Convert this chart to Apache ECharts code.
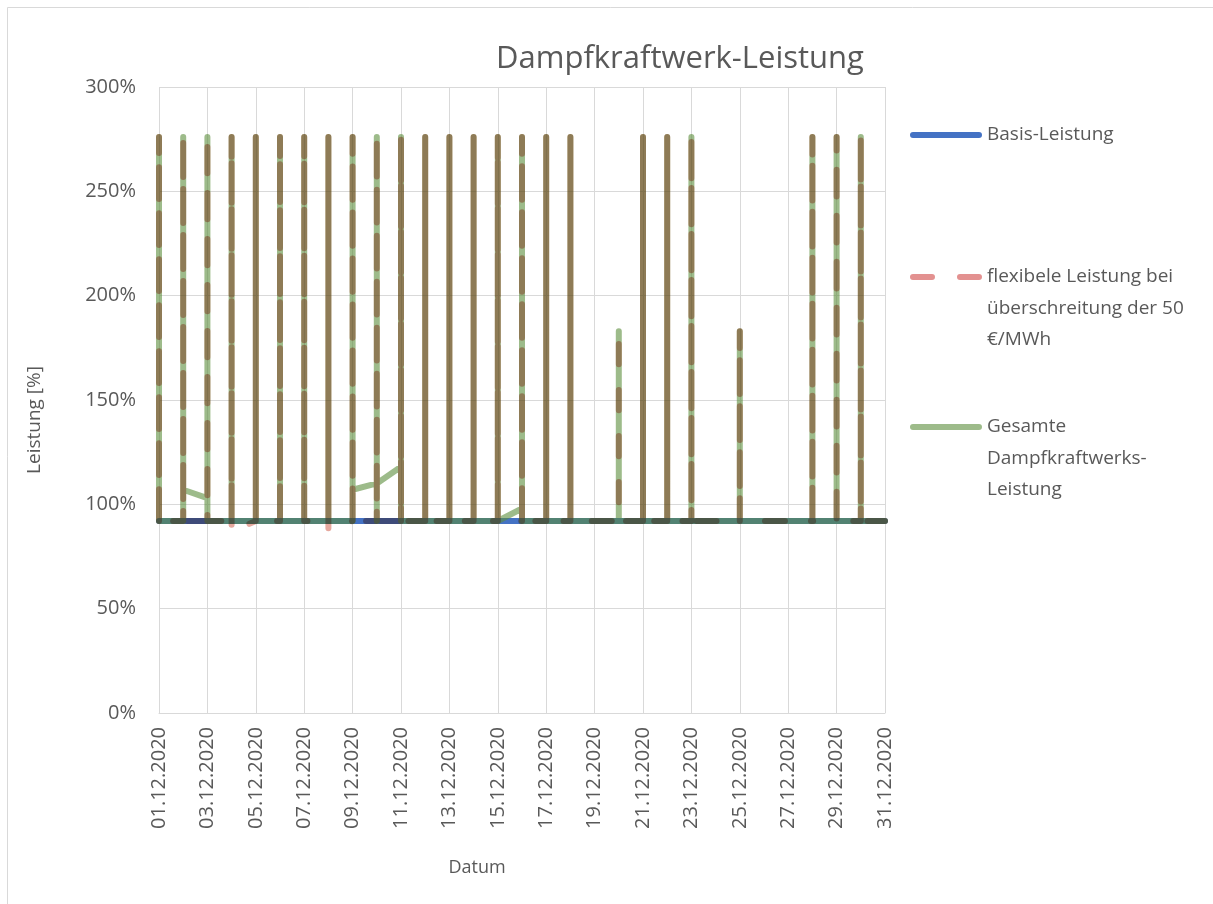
<!DOCTYPE html>
<html>
<head>
<meta charset="utf-8">
<title>Dampfkraftwerk-Leistung</title>
<script src="https://cdn.jsdelivr.net/npm/echarts@6/dist/echarts.min.js"></script>
<style>
  html, body { margin: 0; padding: 0; background: #fff; }
  #dashboard { width: 1213px; height: 904px; }
</style>
</head>
<body>
<div id="dashboard"></div>
<script>
// x-Achse: Tage im Dezember 2020
var dayLabels = [
  '01.12.2020', '02.12.2020', '03.12.2020', '04.12.2020', '05.12.2020', '06.12.2020',
  '07.12.2020', '08.12.2020', '09.12.2020', '10.12.2020', '11.12.2020', '12.12.2020',
  '13.12.2020', '14.12.2020', '15.12.2020', '16.12.2020', '17.12.2020', '18.12.2020',
  '19.12.2020', '20.12.2020', '21.12.2020', '22.12.2020', '23.12.2020', '24.12.2020',
  '25.12.2020', '26.12.2020', '27.12.2020', '28.12.2020', '29.12.2020', '30.12.2020',
  '31.12.2020'
];

var seriesNames = [
  'Basis-Leistung',
  'flexibele Leistung bei überschreitung der 50 €/MWh',
  'Gesamte Dampfkraftwerks-Leistung'
];

// Basis-Leistung in %, ein Wert pro Tag
var basisLeistung = [
  92, 92, 92, 92, 92, 92, 92, 92, 92, 92, 92, 92, 92, 92, 92, 92,
  92, 92, 92, 92, 92, 92, 92, 92, 92, 92, 92, 92, 92, 92, 92
];

// flexible Leistung in %, Verlauf innerhalb eines Tages (alle Werte am selben Datum)
var flexLeistung = [
  [92, 276, 92],                // 01.12
  [92, 276, 92],                // 02.12
  [92, 276, 92],                // 03.12
  [92, 276, 87],                // 04.12
  [92, 276, 92, 276, 92],       // 05.12
  [92, 276, 92, 276, 92],       // 06.12
  [92, 276, 92, 276, 92],       // 07.12
  [92, 276, 92, 276, 88],       // 08.12
  [92, 276, 92],                // 09.12
  [92, 276, 92],                // 10.12
  [92, 276, 92, 276, 92],       // 11.12
  [92, 276, 92, 276, 92],       // 12.12
  [92, 276, 92, 276, 92],       // 13.12
  [92, 276, 92, 276, 92],       // 14.12
  [92, 276, 92, 276, 92],       // 15.12
  [92, 276, 92],                // 16.12
  [92, 276, 92, 276, 92],       // 17.12
  [92, 276, 92, 276, 92],       // 18.12
  [92],                         // 19.12
  [92, 183, 92],                // 20.12
  [92, 276, 92, 276, 92],       // 21.12
  [92, 276, 92, 276, 92],       // 22.12
  [92, 276, 92],                // 23.12
  [92],                         // 24.12
  [92, 183, 92, 183, 92],       // 25.12
  [92],                         // 26.12
  [92],                         // 27.12
  [92, 276, 92, 276, 92],       // 28.12
  [92, 276, 92],                // 29.12
  [92, 276, 92],                // 30.12
  [92]                          // 31.12
];

// gesamte Leistung in %
var gesamtLeistung = [
  [92, 276, 92],                // 01.12
  [92, 276, 107],               // 02.12
  [103, 276, 92],               // 03.12
  [92, 276, 92],                // 04.12
  [92, 276, 92, 276, 92],       // 05.12
  [92, 276, 92, 276, 92],       // 06.12
  [92, 276, 92, 276, 92],       // 07.12
  [92, 276, 92, 276, 92],       // 08.12
  [92, 276, 107],               // 09.12
  [110, 92, 276, 110],          // 10.12
  [118, 276, 92, 276, 92],      // 11.12
  [92, 276, 92, 276, 92],       // 12.12
  [92, 276, 92, 276, 92],       // 13.12
  [92, 276, 92, 276, 92],       // 14.12
  [92, 276, 92, 276, 92],       // 15.12
  [98, 276, 92],                // 16.12
  [92, 276, 92, 276, 92],       // 17.12
  [92, 276, 92, 276, 92],       // 18.12
  [92],                         // 19.12
  [92, 183, 92],                // 20.12
  [92, 276, 92, 276, 92],       // 21.12
  [92, 276, 92, 276, 92],       // 22.12
  [92, 276, 92],                // 23.12
  [92],                         // 24.12
  [92, 183, 92, 183, 92],       // 25.12
  [92],                         // 26.12
  [92],                         // 27.12
  [92, 276, 92, 276, 92],       // 28.12
  [92, 276, 92],                // 29.12
  [92, 276, 92],                // 30.12
  [92]                          // 31.12
];

var legendLabels = {};
legendLabels[seriesNames[0]] = 'Basis-Leistung';
legendLabels[seriesNames[1]] = 'flexibele Leistung bei\nüberschreitung der 50\n€/MWh';
legendLabels[seriesNames[2]] = 'Gesamte\nDampfkraftwerks-\nLeistung';

var FONT = '"Open Sans", "DejaVu Sans", sans-serif';
var TEXT_COLOR = '#595959';
var GRID_COLOR = '#D9D9D9';
var LINE_H = 31.5;

// Legendensymbole: Linie auf Höhe der ersten Textzeile
function iconPath(h, dashed) {
  var y0 = LINE_H / 2 - 3, y1 = LINE_H / 2 + 3;
  function seg(a, b) {
    return 'M' + (a + 3) + ',' + y0 + ' L' + (b - 3) + ',' + y0 +
      ' A3,3 0 0 1 ' + (b - 3) + ',' + y1 + ' L' + (a + 3) + ',' + y1 +
      ' A3,3 0 0 1 ' + (a + 3) + ',' + y0 + ' Z ';
  }
  var body = dashed ? seg(0, 25) + seg(47, 72) : seg(0, 72);
  return 'path://M0,0 L0.01,0 ' + body + 'M72,' + h + ' L71.99,' + h;
}

function perDay(values) {
  return values.map(function (v, day) { return [day, v]; });
}

function withinDay(days) {
  var data = [];
  days.forEach(function (values, day) {
    values.forEach(function (v) { data.push([day, v]); });
  });
  return data;
}

function legendFor(name, firstLineY, lines, color, dashed) {
  var h = lines * LINE_H;
  return {
    data: [{
      name: name,
      icon: iconPath(h, dashed),
      itemStyle: { color: color, borderWidth: 0, opacity: 1 }
    }],
    orient: 'vertical',
    left: 910,
    top: firstLineY - LINE_H / 2,
    padding: 0,
    itemWidth: 72,
    itemHeight: h,
    itemGap: 0,
    symbolKeepAspect: true,
    selectedMode: false,
    formatter: function (n) { return legendLabels[n]; },
    textStyle: {
      color: TEXT_COLOR,
      fontFamily: FONT,
      fontSize: 19,
      lineHeight: LINE_H
    }
  };
}

var myChart = echarts.init(document.getElementById('dashboard'), null, { renderer: 'canvas' });

var option = {
  backgroundColor: '#ffffff',
  animation: false,
  title: {
    text: 'Dampfkraftwerk-Leistung',
    left: 491,
    top: 39,
    textStyle: {
      color: TEXT_COLOR,
      fontFamily: FONT,
      fontSize: 31,
      fontWeight: 'normal'
    }
  },
  graphic: [{
    type: 'rect',
    silent: true,
    shape: { x: 7.5, y: 7.5, width: 1300, height: 1000 },
    style: { fill: 'none', stroke: GRID_COLOR, lineWidth: 1 }
  }],
  legend: [
    legendFor(seriesNames[0], 135, 1, '#4472C4', false),
    legendFor(seriesNames[1], 277, 3, '#E39190', true),
    legendFor(seriesNames[2], 427, 3, '#9DBB8A', false)
  ],
  grid: {
    left: 159,
    right: 328,
    top: 87,
    bottom: 191,
    containLabel: false
  },
  xAxis: {
    type: 'value',
    min: 0,
    max: 30,
    interval: 2,
    name: 'Datum',
    nameLocation: 'middle',
    nameGap: 146,
    nameTextStyle: {
      color: TEXT_COLOR,
      fontFamily: FONT,
      fontSize: 18,
      padding: [0, 90, 0, 0]
    },
    axisLine: { show: true, lineStyle: { color: GRID_COLOR, width: 1 } },
    axisTick: { show: false },
    splitLine: { show: true, lineStyle: { color: GRID_COLOR, width: 1 } },
    axisLabel: {
      rotate: 90,
      margin: 14,
      color: TEXT_COLOR,
      fontFamily: FONT,
      fontSize: 20,
      formatter: function (v) { return dayLabels[v] || ''; }
    }
  },
  yAxis: {
    type: 'value',
    min: 0,
    max: 300,
    interval: 50,
    name: 'Leistung [%]',
    nameLocation: 'middle',
    nameGap: 115,
    nameTextStyle: {
      color: TEXT_COLOR,
      fontFamily: FONT,
      fontSize: 19,
      padding: [0, 40, 0, 0]
    },
    axisLine: { show: false },
    axisTick: { show: false },
    splitLine: { show: true, lineStyle: { color: GRID_COLOR, width: 1 } },
    axisLabel: {
      margin: 23,
      color: TEXT_COLOR,
      fontFamily: FONT,
      fontSize: 20,
      formatter: '{value}%'
    }
  },
  series: [
    {
      name: seriesNames[0],
      type: 'line',
      symbol: 'none',
      z: 2,
      data: perDay(basisLeistung),
      color: '#4472C4',
      lineStyle: { color: '#4472C4', width: 6, cap: 'round' }
    },
    {
      name: seriesNames[2],
      type: 'line',
      symbol: 'none',
      z: 3,
      data: withinDay(gesamtLeistung),
      color: '#9DBB8A',
      lineStyle: { color: 'rgba(92,142,60,0.6)', width: 6, cap: 'round', join: 'round' }
    },
    {
      name: seriesNames[1],
      type: 'line',
      symbol: 'none',
      z: 4,
      blendMode: 'multiply',
      data: withinDay(flexLeistung),
      color: '#E39190',
      lineStyle: { color: '#E6A89E', width: 6, type: [20, 26], cap: 'round', join: 'round' }
    }
  ]
};

myChart.setOption(option);
</script>
</body>
</html>
